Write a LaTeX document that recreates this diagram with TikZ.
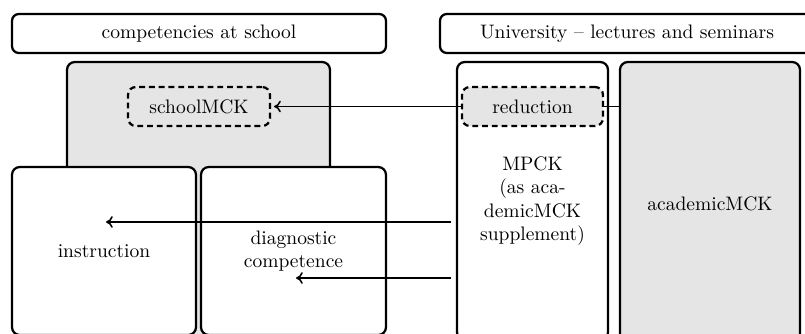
\documentclass[tikz,border=0pt]{standalone}
\usetikzlibrary{fit,calc,arrows.meta}
\begin{document}
\begin{tikzpicture}[x=0.018cm,y=-0.018cm,
  header/.style={draw,line width=1.15pt,rounded corners=3.5pt,inner sep=0pt},
  box/.style={draw,line width=1.15pt,rounded corners=4pt,inner sep=0pt,fill=white},
  shaded/.style={fill=gray!20},
  knowledge/.style={draw,line width=1.15pt,dash pattern=on 3pt off 2pt,rounded corners=4pt,inner sep=0pt},
  caption/.style={label={[align=center]center:#1}},
  link/.style={-{To[length=3.5pt,width=6pt]},line width=0.8pt}]
\clip (0,0) rectangle (805,333);

% column headers
\node[header,fit={(12,14)(386,53)},caption={competencies at school}] (school) {};
\node[header,fit={(440,14)(814,53)},caption={University -- lectures and seminars}] (uni) {};

% school side: knowledge area behind the practice boxes
\node[box,shaded,fit={(67,62)(330,345)}] (schoolarea) {};
\node[knowledge,fit={(128,87)(270,126)},caption={schoolMCK}] (schoolmck) {};

% university side
\node[box,shaded,fit={(620,62)(800,345)},caption={academicMCK}] (academic) {};
\node[box,fit={(457,62)(608,340)},caption={MPCK\\(as aca-\\demicMCK\\supplement)}] (mpck) {};

\draw[link] (academic.west |- schoolmck.east) -- ([xshift=1.5pt]schoolmck.east);
\node[knowledge,shaded,fit={(462,87)(603,126)},caption={reduction}] (reduction) {};

% practice at school
\node[box,fit={(12,167)(196,335)},caption={instruction}] (instruction) {};
\node[box,fit={(201,167)(386,335)},caption={diagnostic\\competence}] (diagnostic) {};

\coordinate (src1) at (451,222);
\coordinate (dst1) at (106,222);
\coordinate (src2) at (451,278);
\coordinate (dst2) at (296,278);
\draw[link] (src1) -- (dst1);
\draw[link] (src2) -- (dst2);
\end{tikzpicture}
\end{document}
